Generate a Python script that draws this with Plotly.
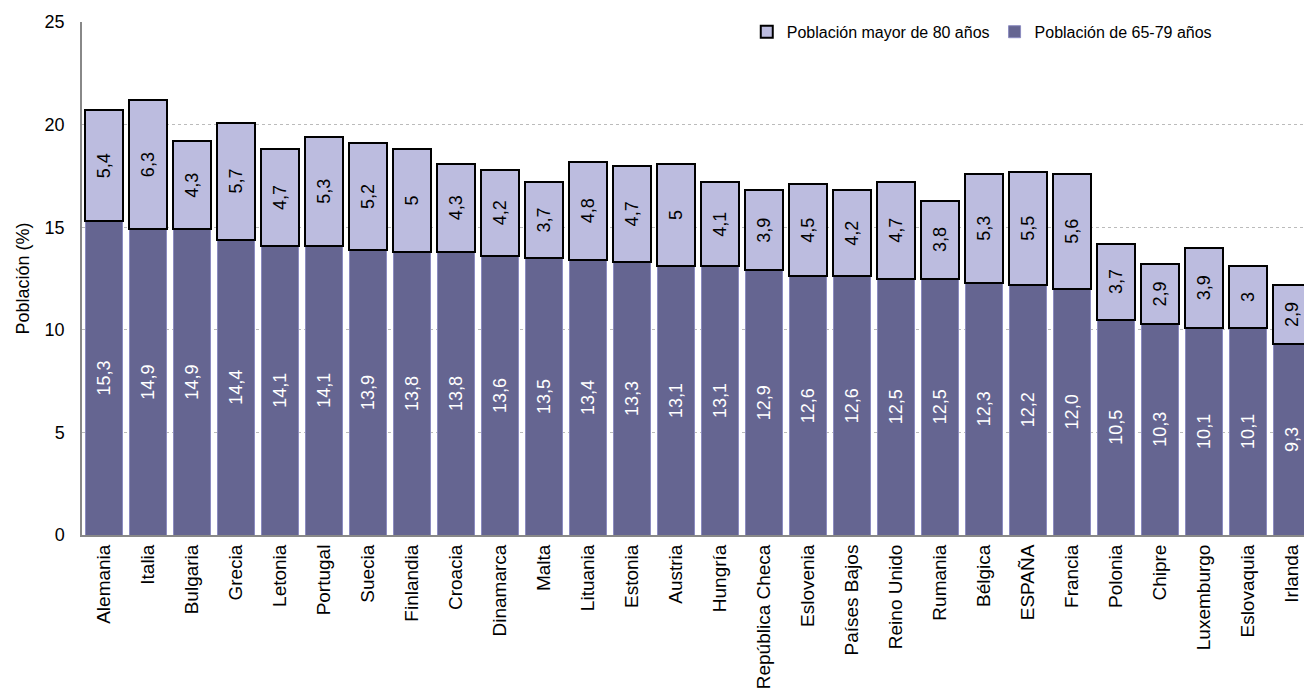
import plotly.graph_objects as go

paises = ["Alemania", "Italia", "Bulgaria", "Grecia", "Letonia", "Portugal", "Suecia",
          "Finlandia", "Croacia", "Dinamarca", "Malta", "Lituania", "Estonia", "Austria",
          "Hungría", "República Checa", "Eslovenia", "Países Bajos", "Reino Unido",
          "Rumania", "Bélgica", "ESPAÑA", "Francia", "Polonia", "Chipre", "Luxemburgo",
          "Eslovaquia", "Irlanda"]
p65_79 = [15.3, 14.9, 14.9, 14.4, 14.1, 14.1, 13.9, 13.8, 13.8, 13.6, 13.5, 13.4, 13.3, 13.1,
          13.1, 12.9, 12.6, 12.6, 12.5, 12.5, 12.3, 12.2, 12.0, 10.5, 10.3, 10.1, 10.1, 9.3]
p80 = [5.4, 6.3, 4.3, 5.7, 4.7, 5.3, 5.2, 5, 4.3, 4.2, 3.7, 4.8, 4.7, 5, 4.1, 3.9, 4.5, 4.2,
       4.7, 3.8, 5.3, 5.5, 5.6, 3.7, 2.9, 3.9, 3, 2.9]

def fmt1(v):
    return f"{v:.1f}".replace(".", ",")

def fmtg(v):
    return f"{v:g}".replace(".", ",")

FONT = "Liberation Sans, Arial, sans-serif"

fig = go.Figure()
fig.add_trace(go.Bar(
    x=paises, y=p65_79, name="Población de 65-79 años",
    marker=dict(color="#656591", line=dict(color="#8c8cc0", width=1)),
    text=[fmt1(v) for v in p65_79], textposition="inside", insidetextanchor="middle",
    textangle=-90, textfont=dict(color="white", size=18, family=FONT),
))
fig.add_trace(go.Bar(
    x=paises, y=p80, name="Población mayor de 80 años",
    marker=dict(color="#bcbcdf", line=dict(color="black", width=2)),
    text=[fmtg(v) for v in p80], textposition="inside", insidetextanchor="middle",
    textangle=-90, textfont=dict(color="black", size=18, family=FONT),
))

fig.update_layout(
    barmode="stack", bargap=0.143,
    width=1304, height=689,
    margin=dict(l=82, r=0, t=22, b=152),
    paper_bgcolor="white", plot_bgcolor="white",
    font=dict(family=FONT, size=18, color="black"),
    legend=dict(orientation="h", x=0.544, y=1.014, xanchor="left", yanchor="top",
                traceorder="reversed", bgcolor="white", font=dict(size=16)),
    showlegend=True,
)
fig.update_xaxes(
    range=[-0.5, 27.27], tickangle=-90, tickfont=dict(size=19),
    showline=True, linecolor="#888888", linewidth=2, ticks="",
)
fig.update_yaxes(
    range=[0, 25], tick0=0, dtick=5, tickfont=dict(size=18),
    showgrid=True, gridcolor="#bbbbbb", griddash="dot", gridwidth=1,
    showline=True, linecolor="#888888", linewidth=1.5,
    ticks="", ticklabelstandoff=12,
    title=dict(text="Población (%)", font=dict(size=18), standoff=10),
    zeroline=False,
)
fig.write_html(
    "out.html",
    config={"displayModeBar": False},
    post_script="document.body.style.margin='0';document.body.style.overflow='hidden';",
)
